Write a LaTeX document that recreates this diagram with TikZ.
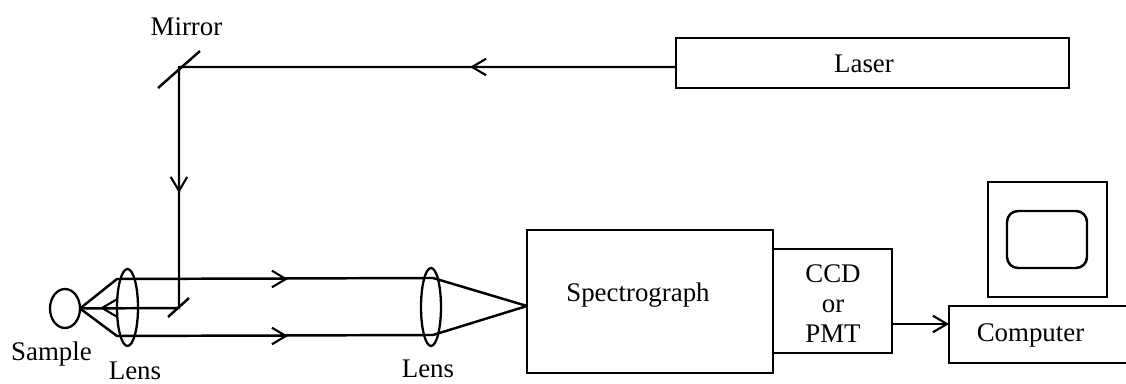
\documentclass[tikz,border=0pt]{standalone}
\usepackage{fontspec}
\setmainfont{Liberation Serif}
\usetikzlibrary{arrows.meta,shapes.geometric}
\tikzset{
	beam/.style={line width=1.4pt},
	flow/.style={line width=1.4pt,-{Straight Barb[length=2.8mm,width=3.3mm,line width=1.2pt]}},
	box/.style={draw,line width=1.4pt,inner sep=0pt,outer sep=0pt},
	optic/.style={draw,ellipse,line width=1.3pt,inner sep=0pt,outer sep=0pt},
	label/.style={font=\fontsize{15.3}{17}\selectfont,inner sep=0pt,anchor=base}
}
\begin{document}
\begin{tikzpicture}[x=0.02cm,y=-0.02cm]
	\useasboundingbox (0,0) rectangle (1126,384);
	% boxes
	\node[box,minimum width=7.86cm,minimum height=1cm] (laser) at (872.5,63) {};
	\node[box,minimum width=4.92cm,minimum height=2.86cm] (spectrograph) at (650,301.5) {};
	\node[box,minimum width=2.38cm,minimum height=2.08cm] (detector) at (832.5,301) {};
	\node[box,minimum width=2.38cm,minimum height=2.3cm] (monitor) at (1047.5,239.5) {};
	\node[box,rounded corners=2.2mm,minimum width=1.6cm,minimum height=1.14cm] (screen) at (1047,239.5) {};
	% computer runs off the edge of the page
	\coordinate (computerA) at (1126,306);
	\coordinate (computerB) at (949,306);
	\coordinate (computerC) at (949,363);
	\coordinate (computerD) at (1126,363);
	\draw[beam] (computerA) -- (computerB) -- (computerC) -- (computerD);
	% sample and lenses
	\node[optic,minimum width=.6cm,minimum height=.78cm] (sample) at (65,308.5) {};
	\node[optic,minimum width=.42cm,minimum height=1.54cm] (lensA) at (127.5,307.5) {};
	\node[optic,minimum width=.4cm,minimum height=1.56cm] (lensB) at (431,307) {};
	% mirrors
	\coordinate (mirrorAa) at (158,88);
	\coordinate (mirrorAb) at (200,51);
	\coordinate (mirrorBa) at (168,317);
	\coordinate (mirrorBb) at (189,298);
	\draw[beam] (mirrorAa) -- (mirrorAb);
	\draw[beam] (mirrorBa) -- (mirrorBb);
	% excitation path
	\coordinate (turnA) at (179,67);
	\coordinate (turnB) at (179,308);
	\draw[beam] (laser.west |- turnA) -- (turnA) -- (turnB) -- (sample.east);
	\draw[flow] (laser.west |- turnA) -- (470,67);
	\draw[flow] (turnA) -- (179,193);
	\draw[flow] (turnB) -- (100,308);
	% collection path
	\coordinate (upperA) at (117,279);
	\coordinate (lowerA) at (117,336);
	\coordinate (upperB) at (433,278);
	\coordinate (lowerB) at (433,335);
	\coordinate (focus) at (527,306);
	\draw[beam] (sample.east) -- (upperA) -- (upperB) -- (focus);
	\draw[beam] (sample.east) -- (lowerA) -- (lowerB) -- (focus);
	\draw[flow] (upperA) -- (288,279);
	\draw[flow] (lowerA) -- (288,336);
	\draw[flow] (detector.east |- 0,324) -- (computerB |- 0,324);
	% labels
	\node[label] (mirrorText) at (186.5,36) {Mirror};
	\node[label] (laserText) at (864,73) {Laser};
	\node[label] (spectrographText) at (638,302) {Spectrograph};
	\node[label] (ccdText) at (833,283) {CCD};
	\node[label] (orText) at (833,313) {or};
	\node[label] (pmtText) at (833,343) {PMT};
	\node[label] (computerText) at (1030.5,342) {Computer};
	\node[label] (sampleText) at (51.5,361) {Sample};
	\node[label] (lensAText) at (135,380) {Lens};
	\node[label] (lensBText) at (428,378) {Lens};
\end{tikzpicture}
\end{document}
